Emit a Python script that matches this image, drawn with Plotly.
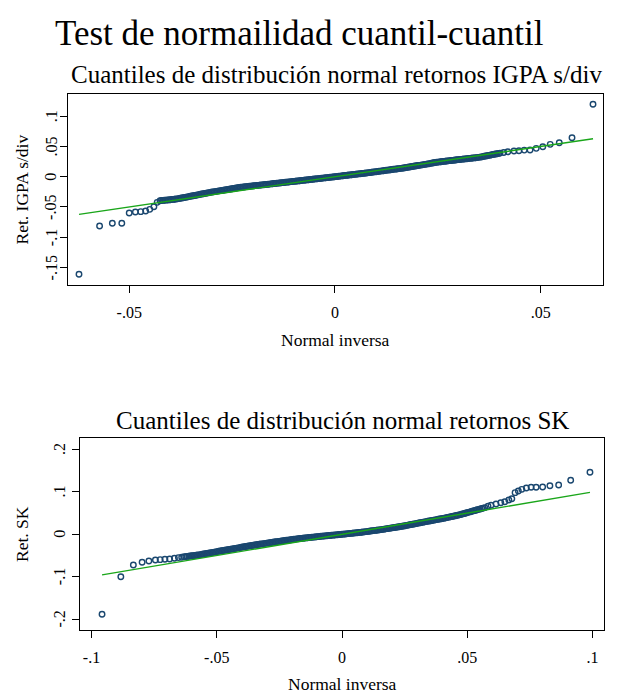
import plotly.graph_objects as go

# ---------------- data ----------------
# Panel 1: IGPA s/div -- normal inverse (x) vs sorted returns (y)
igpa_lo_x = [-0.0622, -0.0572, -0.0541, -0.0518, -0.0500, -0.0485, -0.0472, -0.0460, -0.0450, -0.0440, -0.0432]
igpa_lo_y = [-0.1613, -0.0815, -0.0770, -0.0770, -0.0600, -0.0584, -0.0578, -0.0567, -0.0540, -0.0496, -0.0424]

igpa_mid_x = [
    -0.04250, -0.04215, -0.04180, -0.04145, -0.04110, -0.04075, -0.04040, -0.04005, -0.03970, -0.03935,
    -0.03900, -0.03865, -0.03830, -0.03795, -0.03760, -0.03725, -0.03690, -0.03655, -0.03620, -0.03585,
    -0.03550, -0.03515, -0.03480, -0.03445, -0.03410, -0.03375, -0.03340, -0.03305, -0.03270, -0.03235,
    -0.03200, -0.03165, -0.03130, -0.03095, -0.03060, -0.03025, -0.02990, -0.02955, -0.02920, -0.02885,
    -0.02850, -0.02815, -0.02780, -0.02745, -0.02710, -0.02675, -0.02640, -0.02605, -0.02570, -0.02535,
    -0.02500, -0.02465, -0.02430, -0.02395, -0.02360, -0.02325, -0.02290, -0.02255, -0.02220, -0.02185,
    -0.02150, -0.02115, -0.02080, -0.02045, -0.02010, -0.01975, -0.01940, -0.01905, -0.01870, -0.01835,
    -0.01800, -0.01765, -0.01730, -0.01695, -0.01660, -0.01625, -0.01590, -0.01555, -0.01520, -0.01485,
    -0.01450, -0.01415, -0.01380, -0.01345, -0.01310, -0.01275, -0.01240, -0.01205, -0.01170, -0.01135,
    -0.01100, -0.01065, -0.01030, -0.00995, -0.00960, -0.00925, -0.00890, -0.00855, -0.00820, -0.00785,
    -0.00750, -0.00715, -0.00680, -0.00645, -0.00610, -0.00575, -0.00540, -0.00505, -0.00470, -0.00435,
    -0.00400, -0.00365, -0.00330, -0.00295, -0.00260, -0.00225, -0.00190, -0.00155, -0.00120, -0.00085,
    -0.00050, -0.00015, 0.00020, 0.00055, 0.00090, 0.00125, 0.00160, 0.00195, 0.00230, 0.00265,
    0.00300, 0.00335, 0.00370, 0.00405, 0.00440, 0.00475, 0.00510, 0.00545, 0.00580, 0.00615,
    0.00650, 0.00685, 0.00720, 0.00755, 0.00790, 0.00825, 0.00860, 0.00895, 0.00930, 0.00965,
    0.01000, 0.01035, 0.01070, 0.01105, 0.01140, 0.01175, 0.01210, 0.01245, 0.01280, 0.01315,
    0.01350, 0.01385, 0.01420, 0.01455, 0.01490, 0.01525, 0.01560, 0.01595, 0.01630, 0.01665,
    0.01700, 0.01735, 0.01770, 0.01805, 0.01840, 0.01875, 0.01910, 0.01945, 0.01980, 0.02015,
    0.02050, 0.02085, 0.02120, 0.02155, 0.02190, 0.02225, 0.02260, 0.02295, 0.02330, 0.02365,
    0.02400, 0.02435, 0.02470, 0.02505, 0.02540, 0.02575, 0.02610, 0.02645, 0.02680, 0.02715,
    0.02750, 0.02785, 0.02820, 0.02855, 0.02890, 0.02925, 0.02960, 0.02995, 0.03030, 0.03065,
    0.03100, 0.03135, 0.03170, 0.03205, 0.03240, 0.03275, 0.03310, 0.03345, 0.03380, 0.03415,
    0.03450, 0.03485, 0.03520, 0.03555, 0.03590, 0.03625, 0.03660, 0.03695, 0.03730, 0.03765,
    0.03800, 0.03835, 0.03870, 0.03905, 0.03940, 0.03975, 0.04010]
igpa_mid_y = [
    -0.03970, -0.03945, -0.03920, -0.03895, -0.03870, -0.03850, -0.03830, -0.03805, -0.03780, -0.03755,
    -0.03730, -0.03695, -0.03660, -0.03615, -0.03570, -0.03520, -0.03470, -0.03425, -0.03380, -0.03335,
    -0.03290, -0.03240, -0.03190, -0.03145, -0.03100, -0.03055, -0.03010, -0.02960, -0.02910, -0.02865,
    -0.02820, -0.02770, -0.02720, -0.02675, -0.02630, -0.02585, -0.02540, -0.02500, -0.02460, -0.02420,
    -0.02380, -0.02340, -0.02300, -0.02260, -0.02220, -0.02180, -0.02140, -0.02100, -0.02060, -0.02020,
    -0.01980, -0.01940, -0.01900, -0.01860, -0.01820, -0.01780, -0.01740, -0.01715, -0.01690, -0.01665,
    -0.01640, -0.01610, -0.01580, -0.01555, -0.01530, -0.01505, -0.01480, -0.01455, -0.01430, -0.01400,
    -0.01370, -0.01345, -0.01320, -0.01295, -0.01270, -0.01245, -0.01220, -0.01190, -0.01160, -0.01135,
    -0.01110, -0.01085, -0.01060, -0.01035, -0.01010, -0.00980, -0.00950, -0.00925, -0.00900, -0.00875,
    -0.00850, -0.00820, -0.00790, -0.00765, -0.00740, -0.00715, -0.00690, -0.00660, -0.00630, -0.00605,
    -0.00580, -0.00555, -0.00530, -0.00500, -0.00470, -0.00445, -0.00420, -0.00390, -0.00360, -0.00335,
    -0.00310, -0.00285, -0.00260, -0.00230, -0.00200, -0.00175, -0.00150, -0.00120, -0.00090, -0.00065,
    -0.00040, -0.00010, 0.00020, 0.00045, 0.00070, 0.00100, 0.00130, 0.00160, 0.00190, 0.00215,
    0.00240, 0.00270, 0.00300, 0.00330, 0.00360, 0.00385, 0.00410, 0.00440, 0.00470, 0.00500,
    0.00530, 0.00555, 0.00580, 0.00610, 0.00640, 0.00670, 0.00700, 0.00735, 0.00770, 0.00800,
    0.00830, 0.00865, 0.00900, 0.00930, 0.00960, 0.00995, 0.01030, 0.01060, 0.01090, 0.01120,
    0.01150, 0.01185, 0.01220, 0.01250, 0.01280, 0.01310, 0.01340, 0.01375, 0.01410, 0.01450,
    0.01490, 0.01530, 0.01570, 0.01610, 0.01650, 0.01685, 0.01720, 0.01760, 0.01800, 0.01840,
    0.01880, 0.01920, 0.01960, 0.02000, 0.02040, 0.02080, 0.02120, 0.02165, 0.02210, 0.02255,
    0.02300, 0.02340, 0.02380, 0.02415, 0.02450, 0.02480, 0.02510, 0.02535, 0.02560, 0.02590,
    0.02620, 0.02650, 0.02680, 0.02705, 0.02730, 0.02760, 0.02790, 0.02815, 0.02840, 0.02870,
    0.02900, 0.02925, 0.02950, 0.02975, 0.03000, 0.03030, 0.03060, 0.03085, 0.03110, 0.03135,
    0.03160, 0.03195, 0.03230, 0.03275, 0.03320, 0.03370, 0.03420, 0.03470, 0.03520, 0.03565,
    0.03610, 0.03660, 0.03710, 0.03755, 0.03800, 0.03850, 0.03900]

igpa_hi_x = [0.0410, 0.0420, 0.0435, 0.0447, 0.0460, 0.0474, 0.0489, 0.0505, 0.0523, 0.0545, 0.0576, 0.0627]
igpa_hi_y = [0.0400, 0.0413, 0.0425, 0.0430, 0.0440, 0.0441, 0.0469, 0.0496, 0.0535, 0.0562, 0.0645, 0.1197]

igpa_line_x = [-0.0622, 0.0627]
igpa_line_y = [-0.0622, 0.0627]

# Panel 2: SK
sk_lo_x = [-0.0958, -0.0883, -0.0833, -0.0798, -0.0771, -0.0745, -0.0726, -0.0707, -0.0688, -0.0669, -0.0653, -0.0640]
sk_lo_y = [-0.1887, -0.1000, -0.0724, -0.0660, -0.0630, -0.0606, -0.0598, -0.0590, -0.0583, -0.0566, -0.0550, -0.0540]

sk_mid_x = [
    -0.0630, -0.0624, -0.0618, -0.0612, -0.0606, -0.0600, -0.0594, -0.0588, -0.0582, -0.0576,
    -0.0570, -0.0564, -0.0558, -0.0552, -0.0546, -0.0540, -0.0534, -0.0528, -0.0522, -0.0516,
    -0.0510, -0.0504, -0.0498, -0.0492, -0.0486, -0.0480, -0.0474, -0.0468, -0.0462, -0.0456,
    -0.0450, -0.0444, -0.0438, -0.0432, -0.0426, -0.0420, -0.0414, -0.0408, -0.0402, -0.0396,
    -0.0390, -0.0384, -0.0378, -0.0372, -0.0366, -0.0360, -0.0354, -0.0348, -0.0342, -0.0336,
    -0.0330, -0.0324, -0.0318, -0.0312, -0.0306, -0.0300, -0.0294, -0.0288, -0.0282, -0.0276,
    -0.0270, -0.0264, -0.0258, -0.0252, -0.0246, -0.0240, -0.0234, -0.0228, -0.0222, -0.0216,
    -0.0210, -0.0204, -0.0198, -0.0192, -0.0186, -0.0180, -0.0174, -0.0168, -0.0162, -0.0156,
    -0.0150, -0.0144, -0.0138, -0.0132, -0.0126, -0.0120, -0.0114, -0.0108, -0.0102, -0.0096,
    -0.0090, -0.0084, -0.0078, -0.0072, -0.0066, -0.0060, -0.0054, -0.0048, -0.0042, -0.0036,
    -0.0030, -0.0024, -0.0018, -0.0012, -0.0006, 0.0000, 0.0006, 0.0012, 0.0018, 0.0024,
    0.0030, 0.0036, 0.0042, 0.0048, 0.0054, 0.0060, 0.0066, 0.0072, 0.0078, 0.0084,
    0.0090, 0.0096, 0.0102, 0.0108, 0.0114, 0.0120, 0.0126, 0.0132, 0.0138, 0.0144,
    0.0150, 0.0156, 0.0162, 0.0168, 0.0174, 0.0180, 0.0186, 0.0192, 0.0198, 0.0204,
    0.0210, 0.0216, 0.0222, 0.0228, 0.0234, 0.0240, 0.0246, 0.0252, 0.0258, 0.0264,
    0.0270, 0.0276, 0.0282, 0.0288, 0.0294, 0.0300, 0.0306, 0.0312, 0.0318, 0.0324,
    0.0330, 0.0336, 0.0342, 0.0348, 0.0354, 0.0360, 0.0366, 0.0372, 0.0378, 0.0384,
    0.0390, 0.0396, 0.0402, 0.0408, 0.0414, 0.0420, 0.0426, 0.0432, 0.0438, 0.0444,
    0.0450, 0.0456, 0.0462, 0.0468, 0.0474, 0.0480, 0.0486, 0.0492, 0.0498, 0.0504,
    0.0510, 0.0516, 0.0522, 0.0528, 0.0534, 0.0540, 0.0546, 0.0552, 0.0558, 0.0564,
    0.0570]
sk_mid_y = [
    -0.0530, -0.05255, -0.0521, -0.05165, -0.0512, -0.05075, -0.0503, -0.04985, -0.0494, -0.04895,
    -0.0485, -0.04785, -0.0472, -0.04655, -0.0459, -0.04525, -0.0446, -0.0440, -0.0434, -0.04275,
    -0.0421, -0.04145, -0.0408, -0.04015, -0.0395, -0.0389, -0.0383, -0.03765, -0.0370, -0.0364,
    -0.0358, -0.03515, -0.0345, -0.03385, -0.0332, -0.0326, -0.0320, -0.03135, -0.0307, -0.0301,
    -0.0295, -0.0289, -0.0283, -0.0277, -0.0271, -0.0265, -0.0259, -0.0253, -0.0247, -0.0241,
    -0.0235, -0.0230, -0.0225, -0.02195, -0.0214, -0.0209, -0.0204, -0.01985, -0.0193, -0.01875,
    -0.0182, -0.0177, -0.0172, -0.0167, -0.0162, -0.0157, -0.0152, -0.0147, -0.0142, -0.0137,
    -0.0132, -0.01275, -0.0123, -0.0118, -0.0113, -0.0108, -0.0103, -0.0099, -0.0095, -0.00915,
    -0.0088, -0.00845, -0.0081, -0.0077, -0.0073, -0.00695, -0.0066, -0.0062, -0.0058, -0.00545,
    -0.0051, -0.00475, -0.0044, -0.00405, -0.0037, -0.00335, -0.0030, -0.0027, -0.0024, -0.00205,
    -0.0017, -0.00135, -0.0010, -0.00065, -0.0003, 0.00005, 0.0004, 0.00075, 0.0011, 0.0015,
    0.0019, 0.00225, 0.0026, 0.0030, 0.0034, 0.00375, 0.0041, 0.0045, 0.0049, 0.00535,
    0.0058, 0.0063, 0.0068, 0.00725, 0.0077, 0.0082, 0.0087, 0.00915, 0.0096, 0.01005,
    0.0105, 0.01105, 0.0116, 0.0122, 0.0128, 0.01335, 0.0139, 0.0145, 0.0151, 0.01565,
    0.0162, 0.01675, 0.0173, 0.0179, 0.0185, 0.01905, 0.0196, 0.0203, 0.0210, 0.0217,
    0.0224, 0.02305, 0.0237, 0.0244, 0.0251, 0.0258, 0.0265, 0.0272, 0.0279, 0.0286,
    0.0293, 0.0300, 0.0307, 0.03135, 0.0320, 0.0327, 0.0334, 0.03405, 0.0347, 0.0354,
    0.0361, 0.03675, 0.0374, 0.0381, 0.0388, 0.0396, 0.0404, 0.04115, 0.0419, 0.04265,
    0.0434, 0.0442, 0.0450, 0.04585, 0.0467, 0.0477, 0.0487, 0.0497, 0.0507, 0.05175,
    0.0528, 0.0538, 0.0548, 0.0558, 0.0568, 0.0578, 0.0588, 0.0598, 0.0608, 0.0618,
    0.0628]

sk_hi_x = [0.0583, 0.0595, 0.0615, 0.0634, 0.0650, 0.0666, 0.0678, 0.0691, 0.0704, 0.0718, 0.0736,
           0.0755, 0.0775, 0.0801, 0.0830, 0.0865, 0.0913, 0.0990]
sk_hi_y = [0.0660, 0.0684, 0.0715, 0.0745, 0.0769, 0.0809, 0.0840, 0.0982, 0.1020, 0.1060, 0.1092,
           0.1108, 0.1108, 0.1116, 0.1146, 0.1163, 0.1274, 0.1462]

sk_line_x = [-0.0958, 0.0990]
sk_line_y = [-0.0958, 0.0990]

# tick labels
igpa_xticks = [-0.05, 0, 0.05]
igpa_xtext = ["-.05", "0", ".05"]
igpa_yticks = [-0.15, -0.1, -0.05, 0, 0.05, 0.1]
igpa_ytext = ["-.15", "-.1", "-.05", "0", ".05", ".1"]
sk_xticks = [-0.1, -0.05, 0, 0.05, 0.1]
sk_xtext = ["-.1", "-.05", "0", ".05", ".1"]
sk_yticks = [-0.2, -0.1, 0, 0.1, 0.2]
sk_ytext = ["-.2", "-.1", "0", ".1", ".2"]

assert len(igpa_mid_x) == len(igpa_mid_y)
assert len(sk_mid_x) == len(sk_mid_y)

# ---------------- styling ----------------
W, H = 627, 696
FONT = "Liberation Serif"
NAVY = "#1a476f"
GREEN = "#1aa61a"


def px(v):
    return v / W


def py(v):
    return 1 - v / H


fig = go.Figure()


def add_panel(xs, ys, lx, ly, xa, ya):
    fig.add_trace(go.Scatter(x=xs, y=ys, mode="markers", xaxis=xa, yaxis=ya,
                             marker=dict(symbol="circle-open", size=5.5, color=NAVY,
                                         line=dict(width=1.4, color=NAVY)),
                             showlegend=False, hoverinfo="skip"))
    fig.add_trace(go.Scatter(x=lx, y=ly, mode="lines", xaxis=xa, yaxis=ya,
                             line=dict(color=GREEN, width=1.4),
                             showlegend=False, hoverinfo="skip"))


add_panel(igpa_lo_x + igpa_mid_x + igpa_hi_x, igpa_lo_y + igpa_mid_y + igpa_hi_y,
          igpa_line_x, igpa_line_y, "x", "y")
add_panel(sk_lo_x + sk_mid_x + sk_hi_x, sk_lo_y + sk_mid_y + sk_hi_y,
          sk_line_x, sk_line_y, "x2", "y2")

axis_common = dict(showgrid=False, zeroline=False, showline=True, linecolor="black",
                   linewidth=1.3, mirror=True, ticks="outside", ticklen=7, tickwidth=1,
                   tickcolor="black", tickfont=dict(family=FONT, size=16, color="black"))

fig.update_layout(
    width=W, height=H, margin=dict(l=0, r=0, t=0, b=0),
    paper_bgcolor="white", plot_bgcolor="white",
    xaxis=dict(domain=[px(68.3), px(603.3)], range=[-0.0648, 0.0652], anchor="y",
               tickvals=igpa_xticks, ticktext=igpa_xtext, ticklabelstandoff=6, **axis_common),
    yaxis=dict(domain=[py(285), py(94)], range=[-0.179, 0.1367], anchor="x",
               tickvals=igpa_yticks, showticklabels=False, **axis_common),
    xaxis2=dict(domain=[px(80), px(604)], range=[-0.1046, 0.1046], anchor="y2",
                tickvals=sk_xticks, ticktext=sk_xtext, ticklabelstandoff=6, **axis_common),
    yaxis2=dict(domain=[py(630), py(438.3)], range=[-0.2257, 0.2264], anchor="x2",
                tickvals=sk_yticks, showticklabels=False, **axis_common),
)


def ann(text, x, y, size, angle=0):
    fig.add_annotation(text=text, x=px(x), y=py(y), xref="paper", yref="paper",
                       showarrow=False, xanchor="center", yanchor="middle", textangle=angle,
                       font=dict(family=FONT, size=size, color="black"))


# rotated y tick labels (Stata style), placed on the data scale of each y axis
def ytick_labels(vals, texts, yref, xpos):
    for v, t in zip(vals, texts):
        fig.add_annotation(text=t, x=px(xpos), y=v, xref="paper", yref=yref,
                           showarrow=False, xanchor="center", yanchor="middle", textangle=-90,
                           font=dict(family=FONT, size=16, color="black"))


ytick_labels(igpa_yticks, igpa_ytext, "y", 51)
ytick_labels(sk_yticks, sk_ytext, "y2", 59.5)

ann("Test de normailidad cuantil-cuantil", 299, 33, 35)
ann("Cuantiles de distribución normal retornos IGPA s/div", 336, 75, 25)
ann("Cuantiles de distribución normal retornos SK", 342, 420, 25)
ann("Normal inversa", 335, 340, 17.5)
ann("Normal inversa", 342, 684, 17.5)
ann("Ret. IGPA s/div", 21, 189.5, 17.5, angle=-90)
ann("Ret. SK", 22, 534, 17.5, angle=-90)

fig.write_html("out.html")
